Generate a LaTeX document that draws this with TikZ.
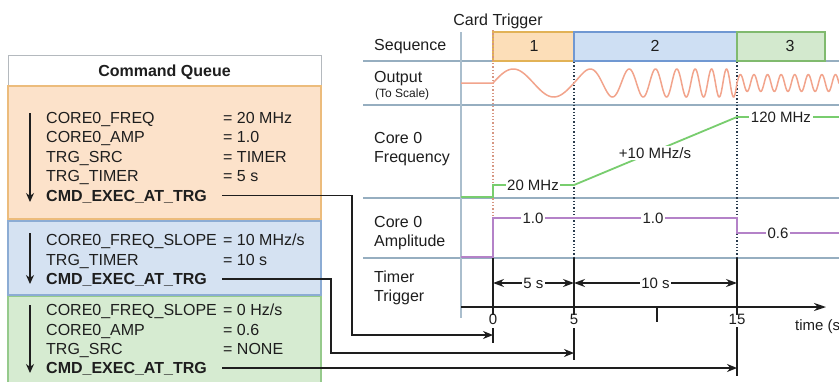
\documentclass[tikz,border=0pt]{standalone}
\usepackage{fontspec}
\setmainfont{Liberation Sans}
\usetikzlibrary{arrows.meta}
\definecolor{txt}{RGB}{30,30,30}
\definecolor{orfill}{RGB}{252,226,202}
\definecolor{ordraw}{RGB}{236,188,124}
\definecolor{blfill}{RGB}{213,226,242}
\definecolor{bldraw}{RGB}{140,172,212}
\definecolor{grfill}{RGB}{214,235,209}
\definecolor{grdraw}{RGB}{150,202,140}
\definecolor{s1fill}{RGB}{252,222,184}
\definecolor{s1draw}{RGB}{226,178,86}
\definecolor{s2fill}{RGB}{206,223,243}
\definecolor{s2draw}{RGB}{112,152,210}
\definecolor{s3fill}{RGB}{211,233,206}
\definecolor{s3draw}{RGB}{128,186,110}
\definecolor{sep}{RGB}{150,174,192}
\definecolor{vax}{RGB}{170,190,205}
\definecolor{salmon}{RGB}{242,164,140}
\definecolor{dotsal}{RGB}{214,150,130}
\definecolor{dotdark}{RGB}{40,58,76}
\definecolor{freqc}{RGB}{120,205,110}
\definecolor{ampc}{RGB}{180,130,200}
\definecolor{hdrdraw}{RGB}{180,185,190}
\begin{document}
\begin{tikzpicture}[x=1pt,y=-1pt,
  font=\fontsize{16}{19}\selectfont, text=txt,
  cmd/.style={anchor=west, inner sep=0pt, text height=11.5pt, text depth=0pt},
  cmdb/.style={cmd, font=\fontsize{16}{19}\selectfont\bfseries},
  rowlbl/.style={anchor=west, inner sep=0pt, text height=11.5pt, text depth=0pt},
  lbl/.style={fill=white, inner sep=1.5pt, font=\fontsize{15}{18}\selectfont, text height=10.8pt, text depth=0pt},
  ticklbl/.style={inner sep=0pt, font=\fontsize{15}{18}\selectfont, text height=10.8pt, text depth=0pt},
  seqnum/.style={inner sep=0pt, text height=11.5pt, text depth=0pt},
  conn/.style={draw=txt, line width=1.3pt, -{Stealth[length=10pt,width=8pt]}},
  downarr/.style={draw=txt, line width=1.3pt, -{Stealth[length=9pt,width=8pt]}},
  bar/.style={draw=txt, line width=1.3pt},
  seprule/.style={draw=sep, line width=1.4pt},
  wave/.style={draw=salmon, line width=1.5pt},
]
\clip (0,0) rectangle (839,381);
\fill[white] (0,0) rectangle (839,381);

% ---------- Command queue ----------
\filldraw[fill=white, draw=hdrdraw, line width=1pt] (8,55) rectangle (321,85);
\node[font=\fontsize{16}{19}\selectfont\bfseries, inner sep=0pt, text height=11.5pt, text depth=0pt] (hdr) at (164.5,71) {Command Queue};
\filldraw[fill=orfill, draw=ordraw, line width=1.2pt] (8,86) rectangle (321,219);
\filldraw[fill=blfill, draw=bldraw, line width=1.2pt] (8,221) rectangle (321,295);
\filldraw[fill=grfill, draw=grdraw, line width=1.2pt] (8,296.5) rectangle (321,390);

\node[cmd] (a1) at (46,117.7) {CORE0\_FREQ};
\node[cmd] (a2) at (46,137) {CORE0\_AMP};
\node[cmd] (a3) at (46,156.5) {TRG\_SRC};
\node[cmd] (a4) at (46,176) {TRG\_TIMER};
\node[cmdb] (a5) at (46,195.3) {CMD\_EXEC\_AT\_TRG};
\node[cmd] (va1) at (223,117.7) {= 20 MHz};
\node[cmd] (va2) at (223,137) {= 1.0};
\node[cmd] (va3) at (223,156.5) {= TIMER};
\node[cmd] (va4) at (223,176) {= 5 s};

\node[cmd] (b1) at (46,240) {CORE0\_FREQ\_SLOPE};
\node[cmd] (b2) at (46,259.5) {TRG\_TIMER};
\node[cmdb] (b3) at (46,279) {CMD\_EXEC\_AT\_TRG};
\node[cmd] (vb1) at (223,240) {= 10 MHz/s};
\node[cmd] (vb2) at (223,259.5) {= 10 s};

\node[cmd] (c1) at (46,310) {CORE0\_FREQ\_SLOPE};
\node[cmd] (c2) at (46,329.3) {CORE0\_AMP};
\node[cmd] (c3) at (46,348.6) {TRG\_SRC};
\node[cmdb] (c4) at (46,368) {CMD\_EXEC\_AT\_TRG};
\node[cmd] (vc1) at (223,310) {= 0 Hz/s};
\node[cmd] (vc2) at (223,329.3) {= 0.6};
\node[cmd] (vc3) at (223,348.6) {= NONE};

\coordinate (da0) at (30,113); \coordinate (da1) at (30,202);
\coordinate (db0) at (30,233); \coordinate (db1) at (30,284);
\coordinate (dc0) at (30,305); \coordinate (dc1) at (30,373);
\draw[downarr] (da0) -- (da1);
\draw[downarr] (db0) -- (db1);
\draw[downarr] (dc0) -- (dc1);

% ---------- Timeline frame ----------
\draw[seprule] (363,61) -- (839,61);
\draw[seprule] (363,105) -- (839,105);
\draw[seprule] (363,198) -- (839,198);
\draw[seprule] (363,258) -- (839,258);

\filldraw[fill=s1fill, draw=s1draw, line width=1.2pt] (493,32) rectangle (574,61);
\filldraw[fill=s2fill, draw=s2draw, line width=1.2pt] (574,32) rectangle (737,61);
\filldraw[fill=s3fill, draw=s3draw, line width=1.2pt] (737,32) rectangle (825,61);
\node[seqnum] (n1) at (534,46) {1};
\node[seqnum] (n2) at (655,46) {2};
\node[seqnum] (n3) at (790,46) {3};

\draw[draw=vax, line width=2pt] (461,32) -- (461,318);

\node[inner sep=0pt, text height=11.5pt, text depth=0pt] (ct) at (498,20) {Card Trigger};

\node[rowlbl] (lseq) at (374,45) {Sequence};
\node[rowlbl] (lout) at (374,76.5) {Output};
\node[rowlbl, font=\fontsize{12}{14}\selectfont, text height=8.6pt] (lsc) at (375,93.5) {(To Scale)};
\node[rowlbl] (lf1) at (374,138) {Core 0};
\node[rowlbl] (lf2) at (374,157) {Frequency};
\node[rowlbl] (la1) at (374,222) {Core 0};
\node[rowlbl] (la2) at (374,241) {Amplitude};
\node[rowlbl] (lt1) at (374,277) {Timer};
\node[rowlbl] (lt2) at (374,296) {Trigger};

% dotted trigger lines
\draw[draw=dotsal, line width=1.3pt, dotted] (493,30) -- (493,258);
\draw[draw=dotdark, line width=1.3pt, dotted] (574,62) -- (574,258);
\draw[draw=dotdark, line width=1.3pt, dotted] (737,62) -- (737,258);

% output waveform
\draw[wave] (461,83) -- (493,83)
  -- plot[domain=493:574, samples=70] (\x, {83-14*sin(4.4444*(\x-493))})
  -- plot[domain=574:737, samples=400] (\x, {83-14*sin(360*(0.2*((\x-574)/16.3)+0.05*((\x-574)/16.3)^2))})
  -- plot[domain=737:839, samples=300] (\x, {83-8.4*sin(26.503*(\x-737))});

% frequency
\draw[draw=freqc, line width=1.8pt] (461,197) -- (493,197) -- (493,185) -- (574,185) -- (737,117) -- (839,117);
\node[lbl] (f20) at (533,185) {20 MHz};
\node[lbl] (fsl) at (655,153) {+10 MHz/s};
\node[lbl] (f120) at (781,117) {120 MHz};

% amplitude
\draw[draw=ampc, line width=1.8pt] (461,257) -- (493,257) -- (493,218) -- (737,218) -- (737,233) -- (839,233);
\node[lbl] (am1) at (533,218) {1.0};
\node[lbl] (am2) at (653,218) {1.0};
\node[lbl] (am3) at (778,233) {0.6};

% timer trigger
\draw[bar] (493,258) -- (493,315);
\draw[bar] (574,258) -- (574,315);
\draw[bar] (737,258) -- (737,315);
\draw[bar] (657,307) -- (657,322);
\draw[draw=txt, line width=1.3pt, -{Stealth[length=12pt,width=8pt]}] (461,307) -- (826,307);
\node[ticklbl] (t0) at (493,319.5) {0};
\node[ticklbl] (t5) at (574,319.5) {5};
\node[ticklbl] (t15) at (737,319.5) {15};
\node[ticklbl, anchor=west] (tl) at (795,325) {time (s)};

\draw[draw=txt, line width=1.3pt, {Stealth[length=11pt,width=8pt]}-{Stealth[length=11pt,width=8pt]}] (493,283) -- (574,283) node[midway, lbl] (d5) {5 s};
\draw[draw=txt, line width=1.3pt, {Stealth[length=11pt,width=8pt]}-{Stealth[length=11pt,width=8pt]}] (574,283) -- (737,283) node[midway, lbl] (d10) {10 s};

% trigger bars below axis
\draw[bar] (493,328) -- (493,343);
\draw[bar] (574,328) -- (574,360);
\draw[bar] (737,327) -- (737,376);

% connectors
\coordinate (e0) at (493,335);
\coordinate (e5) at (574,353);
\coordinate (e15) at (737,368);
\draw[conn] ([xshift=15pt]a5.east) -| (352,335) -- (e0);
\draw[conn] ([xshift=15pt]b3.east) -| (331,353) -- (e5);
\draw[conn] ([xshift=15pt]c4.east) -- (e15);
\end{tikzpicture}
\end{document}
